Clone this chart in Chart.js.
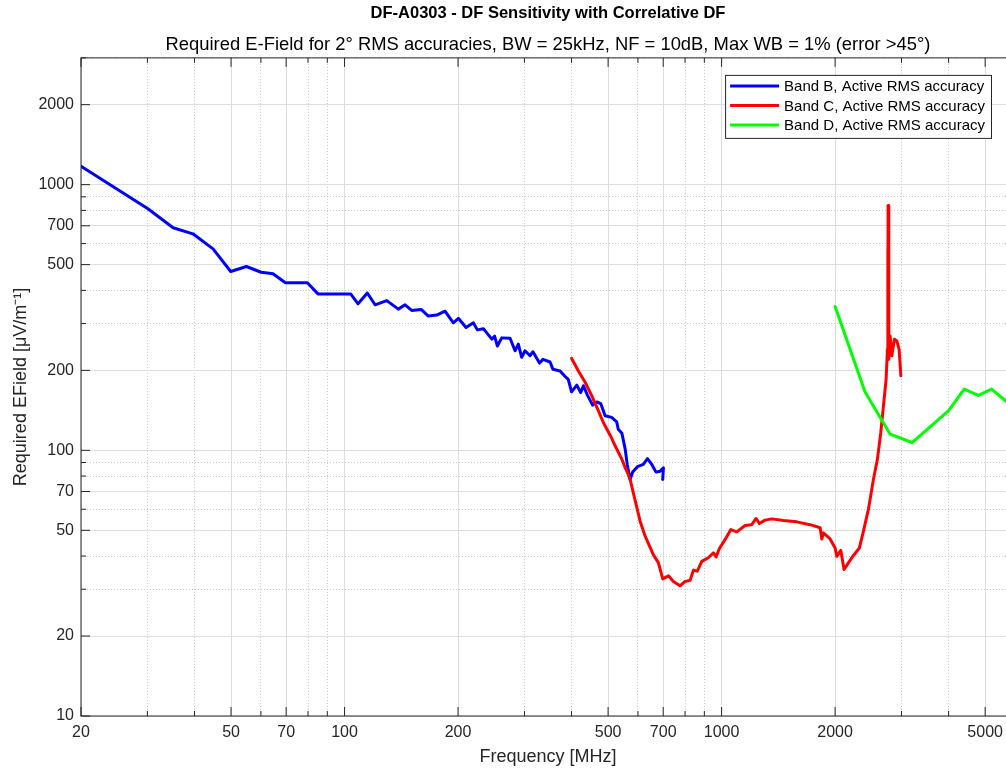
<!DOCTYPE html>
<html>
<head>
<meta charset="utf-8">
<title>DF-A0303 - DF Sensitivity with Correlative DF</title>
<script src="https://cdn.jsdelivr.net/npm/chart.js@4.4.1/dist/chart.umd.min.js"></script>
<style>
  html, body { margin: 0; padding: 0; background: #fff; overflow: hidden; }
  #wrap { width: 1030px; height: 771px; }
</style>
</head>
<body>
<div id="wrap"><canvas id="chart"></canvas></div>
<script>
// Band B (blue)
const bandBFreq = [20, 30.1, 35.1, 39.6, 44.8, 49.9, 54.9, 60.1, 64.6, 69.7,
  79.7, 85, 103.8, 108.6, 114.9, 120.5, 129.4, 138.9, 144.7, 150.7,
  159.6, 166.8, 175.7, 184.7, 194.3, 200.4, 210, 219.6, 225, 233.5,
  245.8, 250, 254.3, 261.1, 274.8, 283.3, 289, 295, 301, 310.5,
  316, 328.8, 336, 350.8, 357, 373, 384, 392, 400, 413,
  423, 430, 441, 455, 467, 478, 491, 511, 527, 532,
  544, 555, 562, 572, 581, 598, 620, 636, 653, 670,
  687, 701, 698];
const bandBField = [1172, 811, 688, 653, 573, 471, 492, 468, 462, 427,
  427, 388, 388, 356, 391, 353, 366, 340, 353, 336,
  339, 320, 323, 334, 302, 314, 290, 302, 284, 287,
  262, 269, 247, 265, 264, 237, 251, 224, 237, 227,
  235, 213, 220, 215, 202, 199, 190, 185, 166, 176,
  165, 175, 161, 148, 152, 150, 135, 133, 128, 120,
  116, 101, 88.5, 77.7, 82.8, 86.8, 88.5, 93, 88.5, 82.8,
  83.4, 86, 77.7];

// Band C (red)
const bandCFreq = [400, 417, 435, 453, 471, 486, 508, 522, 544, 555,
  566, 572, 589, 608, 627, 659, 680, 698, 723, 745,
  776, 800, 825, 842, 862, 886, 922, 951, 967, 986,
  1021, 1058, 1097, 1154, 1202, 1235, 1260, 1304, 1359, 1459,
  1583, 1716, 1825, 1844, 1862, 1940, 2000, 2021, 2071, 2113,
  2169, 2237, 2320, 2378, 2451, 2527, 2590, 2644, 2687, 2731,
  2753, 2759, 2762, 2764, 2776, 2798, 2828, 2873, 2915, 2957,
  2988];
const bandCField = [222, 199, 180, 160, 141, 127, 113, 104, 92.5, 86,
  81, 77.7, 65.3, 54.1, 47.5, 40.5, 37.7, 32.8, 33.7, 32.1,
  30.9, 32.1, 32.4, 35.4, 35.1, 38.2, 39.4, 41.1, 39.7, 42.6,
  46.1, 50.3, 49.3, 52.1, 52.5, 55.4, 53, 54.6, 55.2, 54.4,
  53.8, 52.5, 51.1, 46.4, 48.9, 46.4, 42.9, 39.9, 42, 35.6,
  37.7, 40.2, 42.9, 49.6, 59.9, 77.7, 92.5, 117, 147, 185,
  240, 574, 230, 835, 220, 270, 227, 262, 258, 240,
  191];

// Band D (green)
const bandDFreq = [2000, 2400, 2800, 3200, 4000, 4400, 4800, 5200, 5680];
const bandDField = [348, 166, 115, 107, 141, 170, 161, 170, 153];

const xTickLabels = [20, 50, 70, 100, 200, 500, 700, 1000, 2000, 5000];
const xMinorTicks = [30, 40, 60, 80, 90, 300, 400, 600, 800, 900, 3000, 4000, 6000];
const yTickLabels = [10, 20, 50, 70, 100, 200, 500, 700, 1000, 2000];
const yMinorTicks = [30, 40, 60, 80, 90, 300, 400, 600, 800, 900, 3000];

const FONT = "'Liberation Sans', Arial, Helvetica, sans-serif";
Chart.defaults.font.family = FONT;

function toPoints(xs, ys) {
  return xs.map((x, i) => ({ x: x, y: ys[i] }));
}

function logAxis(labels, minor) {
  return {
    type: 'logarithmic',
    afterBuildTicks: s => {
      s.ticks = labels.concat(minor).sort((a, b) => a - b).map(v => ({ value: v }));
    },
    ticks: {
      autoSkip: false,
      maxRotation: 0,
      color: '#262626',
      font: { size: 16 },
      callback: v => labels.includes(v) ? String(v) : ''
    },
    grid: {
      drawTicks: false,
      lineWidth: 1,
      color: ctx => (ctx.tick && labels.includes(ctx.tick.value)) ? '#dedede' : '#c9c9c9'
    },
    border: {
      display: false,
      dash: ctx => (ctx.tick && !labels.includes(ctx.tick.value)) ? [1, 2] : []
    }
  };
}

const xAxis = logAxis(xTickLabels, xMinorTicks);
xAxis.min = 20;
xAxis.max = 6000;
xAxis.ticks.padding = 7;
xAxis.afterFit = s => { s.height = 55; };
xAxis.title = { display: true, text: 'Frequency [MHz]', color: '#262626',
  font: { size: 18 }, padding: { top: 0, bottom: 3 } };

const yAxis = logAxis(yTickLabels, yMinorTicks);
yAxis.min = 10;
yAxis.max = 3000;
yAxis.ticks.padding = 7;
yAxis.afterFit = s => { s.width = 81; };
yAxis.title = { display: true, text: 'Required EField [μV/m⁻¹]', color: '#262626',
  font: { size: 18 }, padding: { top: 10, bottom: 0 } };

// box, inward tick marks and the legend, drawn like MATLAB's axes
const axesBox = {
  id: 'axesBox',
  afterDraw(chart) {
    const { ctx, chartArea: a, scales: { x, y } } = chart;
    ctx.save();
    ctx.strokeStyle = '#262626';
    ctx.lineWidth = 1;
    ctx.strokeRect(a.left, a.top, a.right - a.left, a.bottom - a.top);

    ctx.beginPath();
    x.ticks.forEach(t => {
      const px = x.getPixelForValue(t.value);
      const len = xTickLabels.includes(t.value) ? 9 : 5;
      ctx.moveTo(px, a.bottom); ctx.lineTo(px, a.bottom - len);
      ctx.moveTo(px, a.top); ctx.lineTo(px, a.top + len);
    });
    y.ticks.forEach(t => {
      const py = y.getPixelForValue(t.value);
      const len = yTickLabels.includes(t.value) ? 9 : 5;
      ctx.moveTo(a.left, py); ctx.lineTo(a.left + len, py);
      ctx.moveTo(a.right, py); ctx.lineTo(a.right - len, py);
    });
    ctx.stroke();

    // legend
    const sets = chart.data.datasets;
    ctx.font = '15px ' + FONT;
    const textW = Math.max(...sets.map(d => ctx.measureText(d.label).width));
    const lw = 59 + textW + 6;
    const lx = a.right - 24 - lw;
    const ly = a.top + 17;
    const lh = 63;
    ctx.fillStyle = '#fff';
    ctx.fillRect(lx, ly, lw, lh);
    ctx.strokeStyle = '#262626';
    ctx.lineWidth = 1;
    ctx.strokeRect(lx + 0.5, ly + 0.5, lw, lh);
    ctx.textBaseline = 'middle';
    sets.forEach((d, i) => {
      const ry = ly + 11 + i * 19.5;
      ctx.strokeStyle = d.borderColor;
      ctx.lineWidth = 3;
      ctx.beginPath();
      ctx.moveTo(lx + 5, ry);
      ctx.lineTo(lx + 54, ry);
      ctx.stroke();
      ctx.fillStyle = '#000';
      ctx.fillText(d.label, lx + 59, ry + 1);
    });
    ctx.restore();
  }
};

new Chart(document.getElementById('chart'), {
  type: 'line',
  data: {
    datasets: [
      { label: 'Band B, Active RMS accuracy', data: toPoints(bandBFreq, bandBField),
        borderColor: '#0000ff', borderWidth: 3, pointRadius: 0, order: 3 },
      { label: 'Band C, Active RMS accuracy', data: toPoints(bandCFreq, bandCField),
        borderColor: '#ff0000', borderWidth: 3, pointRadius: 0, order: 2 },
      { label: 'Band D, Active RMS accuracy', data: toPoints(bandDFreq, bandDField),
        borderColor: '#00ff00', borderWidth: 3, pointRadius: 0, order: 1 }
    ]
  },
  options: {
    responsive: true,
    maintainAspectRatio: false,
    animation: false,
    devicePixelRatio: 1,
    layout: { padding: { left: 0, right: 15, top: 0, bottom: 0 } },
    elements: { line: { tension: 0, borderJoinStyle: 'round', borderCapStyle: 'round' } },
    plugins: {
      legend: { display: false },
      tooltip: { enabled: false },
      title: {
        display: true, fullSize: false,
        text: 'DF-A0303 - DF Sensitivity with Correlative DF',
        color: '#000', font: { size: 16.5, weight: 'bold' },
        padding: { top: 4, bottom: 10 }
      },
      subtitle: {
        display: true, fullSize: false,
        text: 'Required E-Field for 2° RMS accuracies, BW = 25kHz, NF = 10dB, Max WB = 1% (error >45°)',
        color: '#000', font: { size: 18.4, weight: 'normal' },
        padding: { top: 0, bottom: 2 }
      }
    },
    scales: { x: xAxis, y: yAxis }
  },
  plugins: [axesBox]
});
</script>
</body>
</html>
